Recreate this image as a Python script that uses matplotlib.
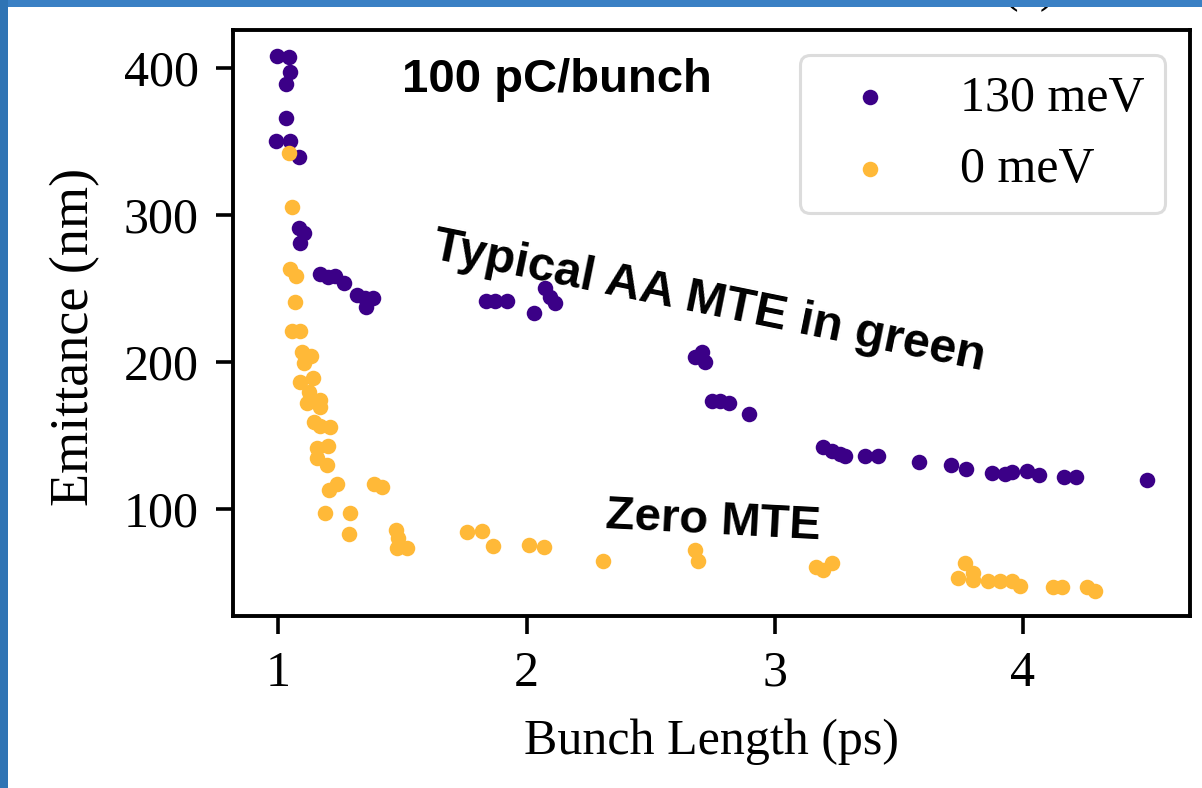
import matplotlib
matplotlib.use("Agg")
import matplotlib.pyplot as plt
from matplotlib.patches import Rectangle

# emittance vs bunch length, 100 pC/bunch
len_130 = [0.995, 1.041, 1.046, 1.032, 1.032, 0.992, 1.046, 1.085,
           1.082, 1.102, 1.086, 1.169, 1.199, 1.230, 1.263, 1.317, 1.350, 1.381, 1.354,
           1.838, 1.874, 1.921, 2.031, 2.075, 2.095, 2.116,
           2.679, 2.706, 2.720, 2.747, 2.780, 2.814, 2.898,
           3.196, 3.230, 3.263, 3.284, 3.364, 3.414, 3.583, 3.709, 3.769,
           3.874, 3.928, 3.955, 4.018, 4.066, 4.166, 4.212, 4.498]
emit_130 = [407.8, 407.3, 397.0, 389.0, 366.0, 350.0, 350.0, 339.0,
            290.6, 287.6, 280.8, 259.5, 257.7, 258.2, 253.6, 245.2, 243.0, 243.0, 237.3,
            241.4, 241.4, 241.4, 233.2, 249.8, 244.1, 240.0,
            203.3, 206.7, 199.9, 173.1, 173.1, 172.0, 164.3,
            142.0, 139.3, 137.0, 135.7, 135.7, 135.7, 131.8, 129.6, 126.7,
            124.0, 123.5, 125.0, 125.7, 122.8, 121.2, 121.2, 119.8]

len_0 = [1.041, 1.055, 1.046, 1.072, 1.068, 1.055, 1.086, 1.095, 1.133, 1.102,
         1.089, 1.140, 1.122, 1.116, 1.166, 1.169, 1.142, 1.169, 1.207, 1.156,
         1.199, 1.156, 1.196, 1.236, 1.203, 1.189, 1.290, 1.286, 1.387, 1.418,
         1.474, 1.482, 1.478, 1.518, 1.762, 1.820, 1.865, 2.008, 2.071, 2.310,
         2.679, 2.689, 3.167, 3.196, 3.230, 3.767, 3.800, 3.740, 3.800, 3.861,
         3.908, 3.955, 3.988, 4.122, 4.156, 4.257, 4.291]
emit_0 = [341.6, 305.0, 262.7, 258.0, 240.7, 221.0, 221.0, 206.7, 203.7, 198.8,
          186.3, 188.6, 179.5, 171.6, 173.8, 169.3, 159.0, 156.1, 155.2, 141.0,
          142.5, 134.1, 129.6, 116.7, 112.6, 97.2, 96.7, 82.6, 116.7, 114.8,
          85.4, 79.7, 72.9, 72.9, 84.2, 84.7, 74.7, 75.2, 74.0, 64.5,
          72.2, 64.5, 60.0, 58.6, 63.1, 62.7, 56.4, 52.5, 51.8, 50.9,
          50.9, 50.9, 47.7, 46.8, 46.8, 46.8, 44.1]

purple = "#3b0087"
orange = "#ffb938"

plt.rcParams["font.family"] = "Liberation Serif"
plt.rcParams["font.size"] = 36

fig = plt.figure(figsize=(12.02, 7.88), dpi=100)
ax = fig.add_axes([0.1938, 0.2183, 0.7962, 0.7436])

ax.scatter(len_130, emit_130, s=125, color=purple, linewidths=0, label="130 meV", zorder=3)
ax.scatter(len_0, emit_0, s=125, color=orange, linewidths=0, label="0 meV", zorder=3)

ax.set_xlim(0.817, 4.673)
ax.set_ylim(27.0, 425.5)
ax.set_xticks([1, 2, 3, 4])
ax.set_yticks([100, 200, 300, 400])
ax.set_xlabel("Bunch Length (ps)", labelpad=16)
ax.set_ylabel("Emittance (nm)", fontsize=39)
ax.yaxis.set_label_coords(-0.139, 0.476)
ax.tick_params(length=12.6, width=2.6, pad=12)
for sp in ax.spines.values():
    sp.set_linewidth(2.8)

leg = ax.legend(loc="upper right", fontsize=36, borderaxespad=0.5)
leg.get_frame().set_edgecolor("#d4d4d4")
leg.get_frame().set_linewidth(2.2)

# annotations
bold = dict(family="Liberation Sans", weight="bold",
            ha="left", va="baseline", rotation_mode="anchor")
ax.text(1.499, 383.3, "100 pC/bunch", size=34, **bold)
ax.text(1.616, 270.4, "Typical AA MTE in green", size=35, rotation=-11.5, **bold)
ax.text(2.317, 86.7, "Zero MTE", size=34, rotation=-3, **bold)

# slide frame, partly hidden panel label
fig.text(1030 / 1202, 1 - 1 / 788, "(a)", ha="center", va="baseline", fontsize=36)
fig.patches.append(Rectangle((0, 1 - 7 / 788), 1, 7 / 788, transform=fig.transFigure,
                             facecolor="#3a80c4", edgecolor="none", zorder=10))
fig.patches.append(Rectangle((0, 0), 8 / 1202, 1, transform=fig.transFigure,
                             facecolor="#2f74b4", edgecolor="none", zorder=10))

fig.savefig("out.png", dpi=100)
